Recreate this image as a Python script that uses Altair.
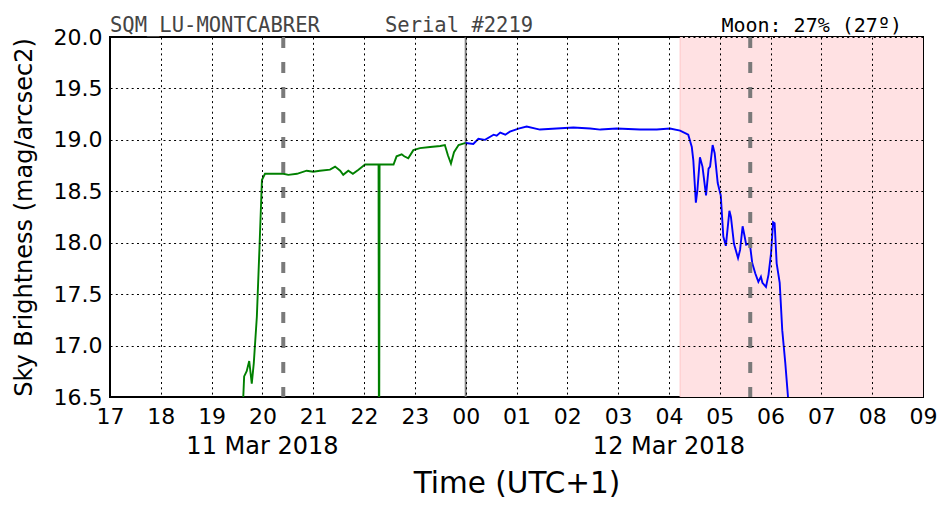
import altair as alt
import pandas as pd

# ---- data (hours since 11 Mar 00:00, UTC+1) ----
green_h = [19.58, 19.64, 19.69, 19.74, 19.79, 19.83, 19.89, 19.94, 19.99, 20.05,
           20.25, 20.41, 20.51, 20.68, 20.87, 21.00, 21.13, 21.33, 21.43, 21.53,
           21.59, 21.69, 21.78, 21.89, 22.02, 22.285, 22.295, 22.305, 22.58, 22.64,
           22.74, 22.79, 22.87, 22.97, 23.10, 23.30, 23.50, 23.59, 23.65, 23.71,
           23.77, 23.86, 24.00]
green_v = [16.00, 16.70, 16.75, 16.85, 16.63, 16.83, 17.28, 17.93, 18.61, 18.67,
           18.67, 18.67, 18.66, 18.67, 18.70, 18.69, 18.70, 18.71, 18.74, 18.70,
           18.66, 18.70, 18.67, 18.71, 18.76, 18.76, 15.00, 18.76, 18.76, 18.84,
           18.86, 18.84, 18.82, 18.90, 18.92, 18.93, 18.94, 18.95, 18.85, 18.77,
           18.88, 18.95, 18.97]

blue_h = [24.00, 24.15, 24.25, 24.38, 24.55, 24.61, 24.68, 24.78, 24.87, 25.04,
          25.20, 25.46, 25.79, 26.12, 26.45, 26.65, 26.97, 27.43, 27.76, 28.02,
          28.22, 28.38, 28.45, 28.48, 28.53, 28.56, 28.61, 28.66, 28.73, 28.78,
          28.81, 28.86, 28.90, 28.96, 29.02, 29.07, 29.12, 29.19, 29.22, 29.28,
          29.36, 29.40, 29.45, 29.49, 29.52, 29.57, 29.60, 29.64, 29.70, 29.76,
          29.81, 29.84, 29.91, 29.96, 30.01, 30.05, 30.08, 30.12, 30.18, 30.23,
          30.29, 30.34, 30.37]
blue_v = [18.97, 18.96, 19.01, 19.00, 19.05, 19.04, 19.07, 19.05, 19.08, 19.11,
          19.13, 19.10, 19.11, 19.12, 19.11, 19.10, 19.11, 19.10, 19.10, 19.11,
          19.09, 19.05, 18.93, 18.80, 18.39, 18.51, 18.83, 18.74, 18.46, 18.72,
          18.74, 18.95, 18.87, 18.58, 18.46, 18.06, 17.97, 18.31, 18.25, 17.99,
          17.85, 17.93, 18.16, 18.06, 17.98, 17.99, 17.96, 17.80, 17.70, 17.62,
          17.67, 17.61, 17.57, 17.69, 17.90, 18.20, 18.19, 17.80, 17.61, 17.15,
          16.83, 16.52, 16.30]

moon_band = [28.22, 33.0]
dashed_lines = [20.41, 29.60]
midnight = [24.0]
date_pos = [20.0, 28.0]
date_labels = ["11 Mar 2018", "12 Mar 2018"]
x_ticks = list(range(17, 34))
y_ticks = [16.5, 17.0, 17.5, 18.0, 18.5, 19.0, 19.5, 20.0]
header_texts = ["SQM_LU-MONTCABRER", "Serial #2219", "Moon: 27% (27º)"]

green_df = pd.DataFrame({"h": green_h, "v": green_v})
blue_df = pd.DataFrame({"h": blue_h, "v": blue_v})
band_df = pd.DataFrame({"h": [moon_band[0]], "h2": [moon_band[1]]})
dash_df = pd.DataFrame({"h": dashed_lines})
mid_df = pd.DataFrame({"h": midnight})
date_df = pd.DataFrame({"h": date_pos, "label": date_labels})

W, H = 813, 360
FONT = "DejaVu Sans"
xscale = alt.Scale(domain=[17, 33], nice=False, zero=False)
yscale = alt.Scale(domain=[16.5, 20.0], nice=False, zero=False)

xaxis = alt.Axis(
    values=x_ticks,
    labelExpr="(datum.value % 24 < 10 ? '0' : '') + (datum.value % 24)",
    title="Time (UTC+1)", titleFontSize=29.5, titleFont=FONT, titleFontWeight="normal",
    titleColor="black", titleY=86, titleBaseline="middle",
    labelFont=FONT, labelFontSize=22, labelColor="black", labelPadding=9,
    ticks=False, domain=False, grid=True, gridColor="black", gridDash=[2, 3.3],
    gridWidth=1, gridOpacity=1, zindex=1, labelFlush=False, labelOverlap=False,
)
yaxis = alt.Axis(
    values=y_ticks, format=".1f",
    title="Sky Brightness (mag/arcsec2)", titleFontSize=24, titleFont=FONT,
    titleFontWeight="normal", titleColor="black", titleX=-86, titleY=H / 2,
    titleBaseline="middle", titleAlign="center",
    labelFont=FONT, labelFontSize=22, labelColor="black", labelPadding=8,
    ticks=False, domain=False, grid=True, gridColor="black", gridDash=[2, 3.3],
    gridWidth=1, gridOpacity=1, zindex=1, labelFlush=False, labelOverlap=False,
)

band = alt.Chart(band_df).mark_rect(color="#ffe1e3").encode(
    x=alt.X("h:Q", scale=xscale, axis=xaxis),
    x2="h2:Q",
    y=alt.value(0), y2=alt.value(H),
)
band_edge = alt.Chart(band_df).mark_rule(color="#ffc6c8", strokeWidth=1).encode(
    x=alt.X("h:Q", scale=xscale), y=alt.value(0), y2=alt.value(H)
)
green = alt.Chart(green_df).mark_line(color="#008000", strokeWidth=1.9, clip=True).encode(
    x=alt.X("h:Q", scale=xscale),
    y=alt.Y("v:Q", scale=yscale, axis=yaxis),
    order="h:Q",
)
blue = alt.Chart(blue_df).mark_line(color="#0000ff", strokeWidth=1.9, clip=True).encode(
    x=alt.X("h:Q", scale=xscale),
    y=alt.Y("v:Q", scale=yscale),
    order="h:Q",
)
dashes = alt.Chart(dash_df).mark_rule(color="#7a7a7a", strokeWidth=4, strokeDash=[11, 14]).encode(
    x=alt.X("h:Q", scale=xscale), y=alt.value(0), y2=alt.value(H)
)
mid = alt.Chart(mid_df).mark_rule(color="#808080", strokeWidth=2).encode(
    x=alt.X("h:Q", scale=xscale), y=alt.value(0), y2=alt.value(H)
)
dates = alt.Chart(date_df).mark_text(font=FONT, fontSize=24, color="black",
                                     baseline="middle", align="center").encode(
    x=alt.X("h:Q", scale=xscale), y=alt.value(H + 50), text="label:N"
)
top_df = pd.DataFrame({"t": header_texts, "px": [0, 275, 792]})
top_left = alt.Chart(top_df.iloc[:2]).mark_text(
    font="DejaVu Sans Mono", fontSize=20.5, baseline="alphabetic", align="left", color="#444444"
).encode(x=alt.X("px:Q", scale=None), y=alt.value(-5), text="t:N")
top_right = alt.Chart(top_df.iloc[2:]).mark_text(
    font="DejaVu Sans Mono", fontSize=20, baseline="alphabetic", align="right", color="black"
).encode(x=alt.X("px:Q", scale=None), y=alt.value(-5), text="t:N")

chart = alt.layer(band, band_edge, mid, green, blue, dashes, dates, top_left, top_right).properties(
    width=W, height=H,
    autosize=alt.AutoSizeParams(type="none"),
    padding={"left": 110, "top": 37, "right": 29, "bottom": 115},
    background="white",
).configure_view(stroke="black", strokeWidth=2)

chart.save("out.html", embed_options={"renderer": "svg", "actions": False})
